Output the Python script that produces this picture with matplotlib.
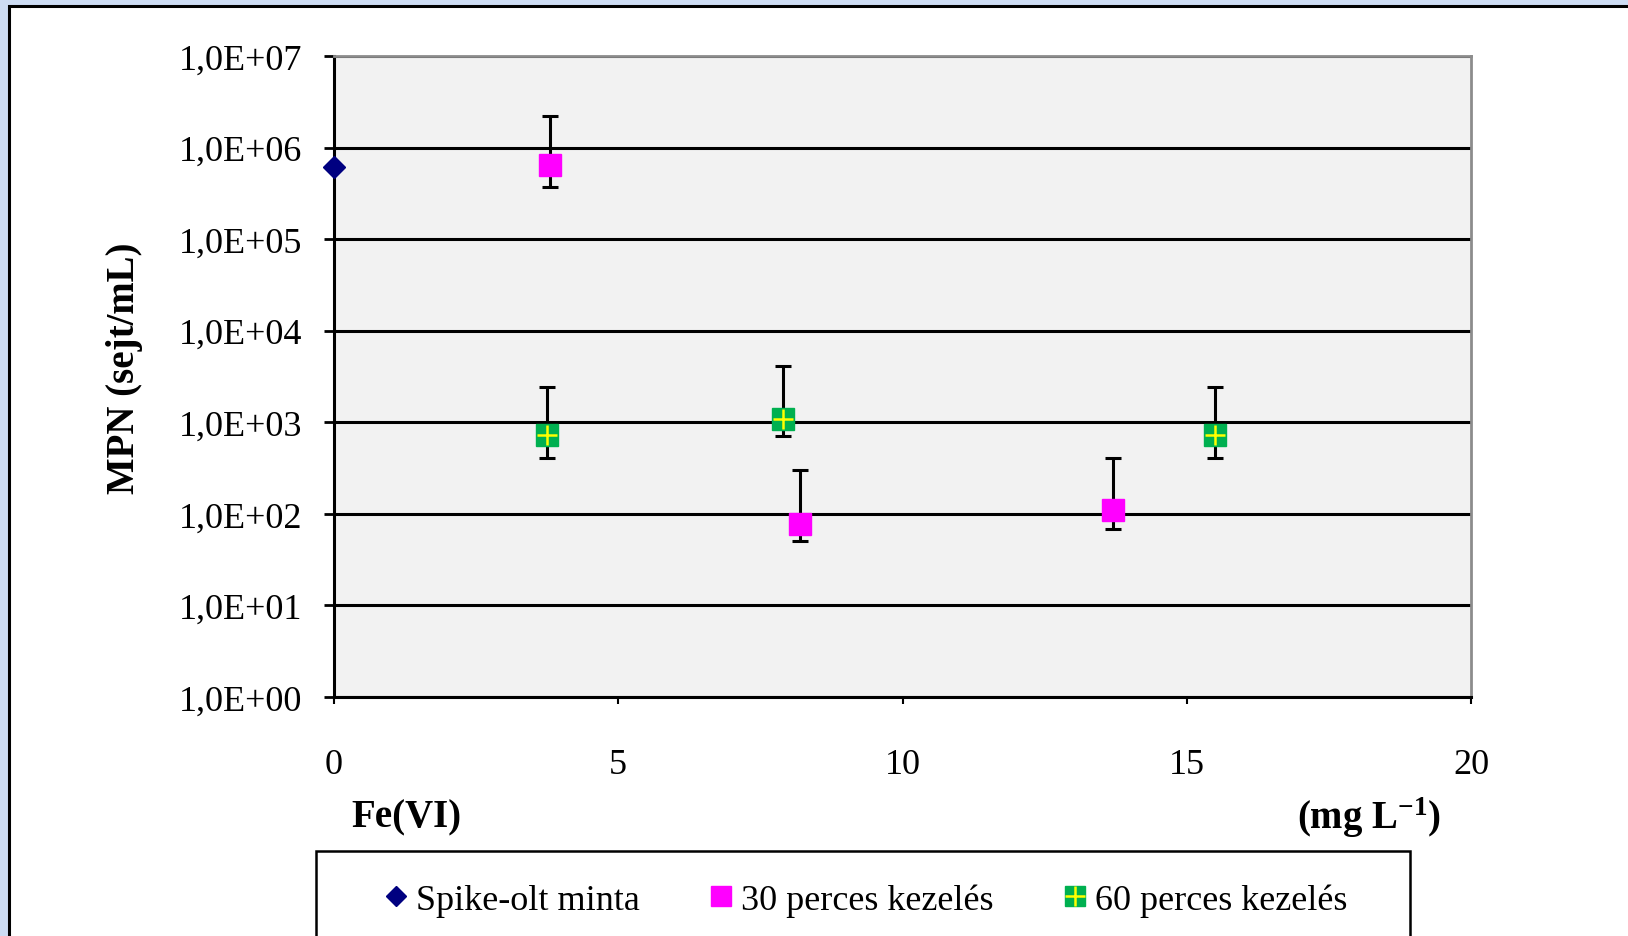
import matplotlib
matplotlib.use("Agg")
import matplotlib.pyplot as plt
from matplotlib.lines import Line2D
from matplotlib.patches import Rectangle
from matplotlib.ticker import FixedLocator, FuncFormatter
import numpy as np

plt.rcParams['font.family'] = ['Liberation Serif', 'DejaVu Serif']
plt.rcParams['mathtext.default'] = 'regular'

# data
spike_x = [0.0]
spike_y = [6.1e5]

min30_x = [3.8, 8.2, 13.7]
min30_y = [6.5e5, 78, 110]
min30_lo = [3.7e5, 51, 69]
min30_hi = [2.2e6, 300, 410]

min60_x = [3.75, 7.9, 15.5]
min60_y = [720, 1090, 720]
min60_lo = [410, 700, 410]
min60_hi = [2400, 4150, 2400]

labels = ['Spike-olt minta', '30 perces kezelés', '60 perces kezelés']
x_ticks = [0, 5, 10, 15, 20]
decades = list(range(0, 8))

fig = plt.figure(figsize=(16.28, 9.37), dpi=100)
fig.patch.set_facecolor('#cddcf3')
fig.patches.append(Rectangle((9 / 1628, -0.02), 1.0, 1 - 7 / 937 + 0.02, transform=fig.transFigure,
                             facecolor='white', edgecolor='black', linewidth=2.2, zorder=-2))
fig.patches.append(Rectangle((316 / 1628, -0.02), (1410 - 316) / 1628, 1 - 852 / 937 + 0.02,
                             transform=fig.transFigure, facecolor='white', edgecolor='black',
                             linewidth=1.8, zorder=-1))

ax = fig.add_axes([334 / 1628, 1 - 698 / 937, (1471 - 334) / 1628, (698 - 57) / 937])
ax.set_facecolor('#f2f2f2')
ax.set_yscale('log')
ax.set_ylim(1, 1e7)
ax.set_xlim(0, 20)


def yerr(vals, lo, hi):
    v = np.array(vals)
    return [v - np.array(lo), np.array(hi) - v]


ax.errorbar(min30_x, min30_y, yerr=yerr(min30_y, min30_lo, min30_hi), fmt='none',
            ecolor='black', elinewidth=2.2, capsize=6, capthick=2.2, zorder=3)
ax.errorbar(min60_x, min60_y, yerr=yerr(min60_y, min60_lo, min60_hi), fmt='none',
            ecolor='black', elinewidth=2.2, capsize=6, capthick=2.2, zorder=3)

ax.plot(spike_x, spike_y, linestyle='none', marker='D', markersize=11, color='#000080',
        clip_on=False, zorder=5)
ax.plot(min30_x, min30_y, linestyle='none', marker='s', markersize=16, color='#ff00ff',
        zorder=5)
ax.plot(min60_x, min60_y, linestyle='none', marker='s', markersize=16, color='#00b050',
        zorder=5)
ax.plot(min60_x, min60_y, linestyle='none', marker='+', markersize=15, markeredgewidth=1.8,
        color='#ffff00', zorder=6)

ax.yaxis.set_major_locator(FixedLocator([10.0 ** d for d in decades]))
ax.yaxis.set_minor_locator(FixedLocator([]))
ax.yaxis.set_major_formatter(FuncFormatter(lambda v, p: '1,0E+%02d' % int(round(np.log10(v)))))
ax.set_xticks(x_ticks)
ax.set_xticklabels([str(t) for t in x_ticks])

ax.set_axisbelow(True)
ax.yaxis.grid(True, color='black', linewidth=2.2)
ax.tick_params(axis='y', direction='out', length=7, width=2, labelsize=26, pad=16)
ax.tick_params(axis='x', direction='out', length=5, width=1.5, labelsize=26, pad=32)

for side in ['left', 'bottom']:
    ax.spines[side].set_color('black')
    ax.spines[side].set_linewidth(2.2)
for side in ['top', 'right']:
    ax.spines[side].set_color('#8c8c8c')
    ax.spines[side].set_linewidth(2)

ax.set_ylabel('MPN (sejt/mL)', fontsize=28, fontweight='bold')
ax.yaxis.set_label_coords(-0.168, 0.515)

fig.text(351 / 1628, 1 - 818 / 937, 'Fe(VI)', fontsize=28, fontweight='bold', va='center', ha='left')
fig.text(1441 / 1628, 1 - 818 / 937, '(mg L$^{-1}$)', fontsize=28, fontweight='bold',
         va='center', ha='right')

handles = [
    Line2D([], [], linestyle='none', marker='D', markersize=10, color='#000080'),
    Line2D([], [], linestyle='none', marker='s', markersize=15, color='#ff00ff'),
    (Line2D([], [], linestyle='none', marker='s', markersize=15, color='#00b050'),
     Line2D([], [], linestyle='none', marker='+', markersize=14, markeredgewidth=1.8, color='#ffff00')),
]
leg = fig.legend(handles, labels, ncol=3, loc='center left', bbox_to_anchor=(382 / 1628, 1 - 901 / 937),
                 frameon=False, fontsize=26, handlelength=0.8, handletextpad=0.15,
                 columnspacing=1.85, borderpad=0, borderaxespad=0)

fig.savefig('out.png', dpi=100, facecolor=fig.get_facecolor())
